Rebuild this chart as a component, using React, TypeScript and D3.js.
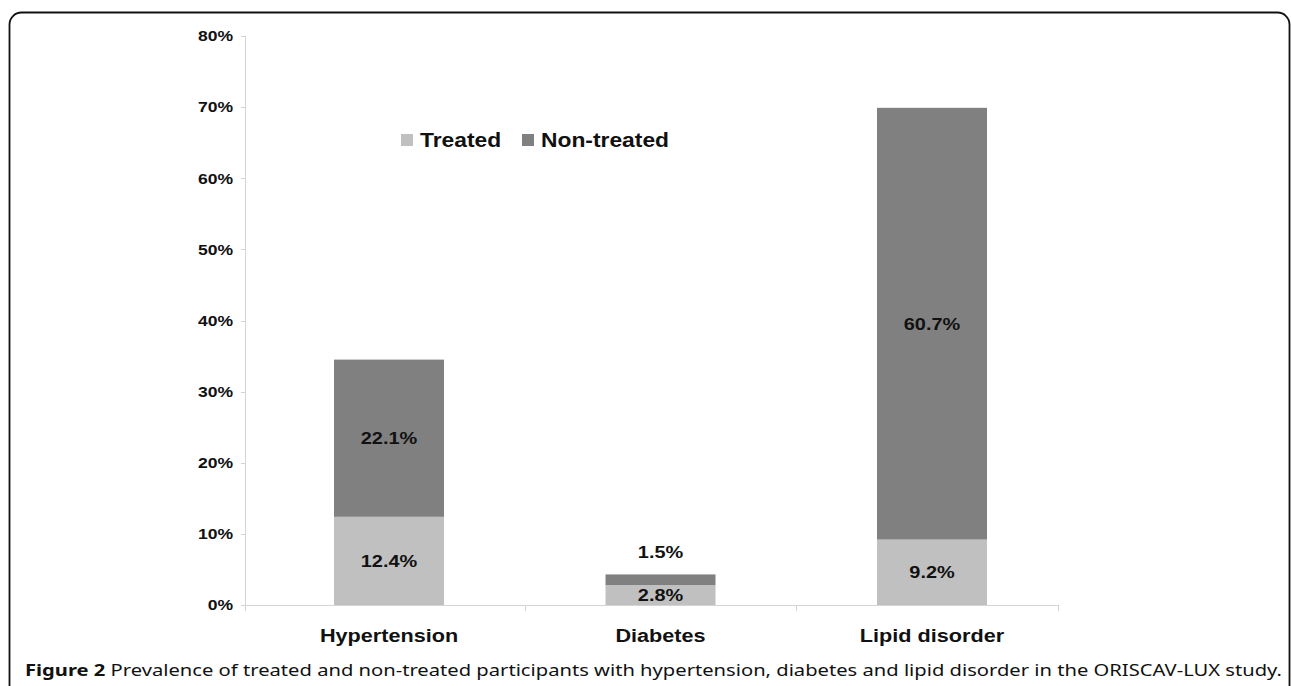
import React from "react";
import * as d3 from "d3";

const categories = ["Hypertension", "Diabetes", "Lipid disorder"];
const treated = [12.4, 2.8, 9.2];
const nonTreated = [22.1, 1.5, 60.7];
const treatedLabels = ["12.4%", "2.8%", "9.2%"];
const nonTreatedLabels = ["22.1%", "1.5%", "60.7%"];
const yTicks = [0, 10, 20, 30, 40, 50, 60, 70, 80];
const seriesNames = ["Treated", "Non-treated"];
const colors = ["#c0c0c0", "#808080"];

const W = 1292;
const H = 686;
const SX = 1.17;
const arial = "Liberation Sans, Arial, sans-serif";

function ST({ x, y, anchor = "start", size, children, weight = "bold" }: any) {
  return (
    <g transform={`translate(${x},${y}) scale(${SX},1)`}>
      <text x={0} y={0} dy="0.35em" textAnchor={anchor} fontFamily={arial} fontWeight={weight} fontSize={size} fill="#111">
        {children}
      </text>
    </g>
  );
}

export default function App() {
  const x = d3.scalePoint<string>().domain(categories).range([389, 932]);
  const bw = 110;
  const y = d3.scaleLinear().domain([0, 80]).range([605, 36]);
  const step = x.step();
  const axisTicks = [245, ...categories.slice(1).map((c) => x(c)! - step / 2), 1058];

  return (
    <svg width={W} height={H} style={{ position: "absolute", left: 0, top: 0, background: "#fff" }}>
      <rect x={9.5} y={12.5} width={1280} height={720} rx={12} fill="none" stroke="#111" strokeWidth={1.8} />
      {/* y axis */}
      <line x1={245.5} x2={245.5} y1={y(80)} y2={y(0)} stroke="#d4d4d4" />
      {yTicks.map((t) => (
        <g key={t}>
          <line x1={241} x2={245.5} y1={Math.round(y(t)) + 0.5} y2={Math.round(y(t)) + 0.5} stroke="#d4d4d4" />
          <ST x={233} y={y(t)} anchor="end" size={15}>
            {t}%
          </ST>
        </g>
      ))}
      {/* x axis */}
      <line x1={245} x2={1058} y1={605.5} y2={605.5} stroke="#d4d4d4" />
      {axisTicks.map((t, i) => (
        <line key={i} x1={Math.round(t) + 0.5} x2={Math.round(t) + 0.5} y1={605} y2={611} stroke="#d4d4d4" />
      ))}
      {/* bars */}
      {categories.map((c, i) => {
        const cx = x(c)!;
        const x0 = cx - bw / 2;
        const t = treated[i];
        const n = nonTreated[i];
        const small = n < 3;
        return (
          <g key={c}>
            <rect x={x0} y={y(t)} width={bw} height={y(0) - y(t)} fill={colors[0]} />
            <rect x={x0} y={y(t + n)} width={bw} height={y(t) - y(t + n)} fill={colors[1]} />
            <ST x={cx} y={y(t / 2)} anchor="middle" size={17}>
              {treatedLabels[i]}
            </ST>
            <ST x={cx} y={small ? y(t + n) - 22 : y(t + n / 2)} anchor="middle" size={17}>
              {nonTreatedLabels[i]}
            </ST>
            <ST x={cx} y={636} anchor="middle" size={18.5}>
              {c}
            </ST>
          </g>
        );
      })}
      {/* legend */}
      <g>
        <rect x={401} y={134} width={12} height={12} fill={colors[0]} />
        <ST x={420} y={140} size={19.5}>
          {seriesNames[0]}
        </ST>
        <rect x={522} y={134} width={12} height={12} fill={colors[1]} />
        <ST x={541} y={140} size={19.5}>
          {seriesNames[1]}
        </ST>
      </g>
      {/* caption */}
      <text x={25} y={670} dy="0.35em" fontFamily="Noto Sans, Open Sans, sans-serif" fontSize={16.8} fill="#111" textLength={1257} lengthAdjust="spacingAndGlyphs">
        <tspan fontWeight="bold">Figure 2</tspan>
        <tspan> Prevalence of treated and non-treated participants with hypertension, diabetes and lipid disorder in the ORISCAV-LUX study.</tspan>
      </text>
    </svg>
  );
}
